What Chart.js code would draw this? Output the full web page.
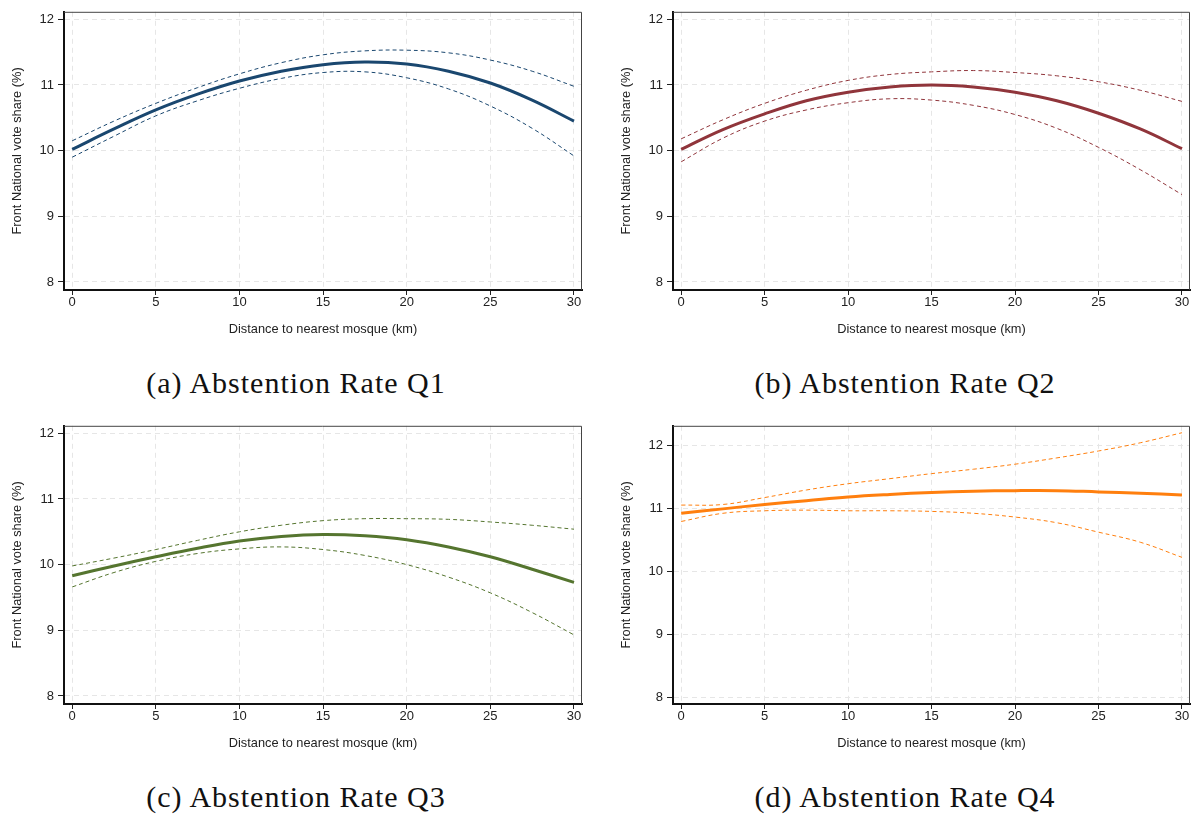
<!DOCTYPE html>
<html>
<head>
<meta charset="utf-8">
<script src="https://cdn.jsdelivr.net/npm/chart.js@4/dist/chart.umd.min.js"></script>
<style>
  body { margin: 0; background: #fff; width: 1192px; height: 818px; position: relative; overflow: hidden; }
  .panel { position: absolute; }
  .cap { position: absolute; text-align: center; font-family: "Liberation Serif", "DejaVu Serif", serif;
         font-size: 30px; line-height: 30px; letter-spacing: 1px; color: #111; white-space: nowrap; }
</style>
</head>
<body>
<div class="panel" style="left:0;top:0;width:596px;height:345px"><canvas id="qa"></canvas></div>
<div class="panel" style="left:609px;top:0;width:583px;height:345px"><canvas id="qb"></canvas></div>
<div class="panel" style="left:0;top:414px;width:596px;height:345px"><canvas id="qc"></canvas></div>
<div class="panel" style="left:609px;top:414px;width:583px;height:345px"><canvas id="qd"></canvas></div>
<div class="cap" style="left:0;width:592px;top:368px">(a) Abstention Rate Q1</div>
<div class="cap" style="left:609px;width:592px;top:368px">(b) Abstention Rate Q2</div>
<div class="cap" style="left:0;width:592px;top:782px">(c) Abstention Rate Q3</div>
<div class="cap" style="left:609px;width:592px;top:782px">(d) Abstention Rate Q4</div>
<script>
// distance to nearest mosque (km)
var distance = [0, 2.5, 5, 7.5, 10, 12.5, 15, 17.5, 20, 22.5, 25, 27.5, 30];
var xTicks = [0, 5, 10, 15, 20, 25, 30];
var yTicks = [8, 9, 10, 11, 12];

// Q1
var q1Fit   = [10.02, 10.33, 10.62, 10.86, 11.06, 11.21, 11.31, 11.35, 11.32, 11.21, 11.03, 10.77, 10.45];
var q1Upper = [10.15, 10.45, 10.72, 10.96, 11.17, 11.34, 11.46, 11.52, 11.53, 11.49, 11.38, 11.21, 10.98];
var q1Lower = [9.90, 10.22, 10.53, 10.76, 10.95, 11.10, 11.19, 11.20, 11.11, 10.94, 10.68, 10.34, 9.92];
// Q2
var q2Fit   = [10.02, 10.32, 10.56, 10.76, 10.89, 10.97, 11.00, 10.97, 10.89, 10.76, 10.57, 10.33, 10.03];
var q2Upper = [10.18, 10.47, 10.72, 10.92, 11.07, 11.16, 11.20, 11.22, 11.19, 11.14, 11.05, 10.92, 10.75];
var q2Lower = [9.83, 10.19, 10.45, 10.62, 10.73, 10.79, 10.77, 10.69, 10.55, 10.34, 10.05, 9.71, 9.33];
// Q3
var q3Fit   = [9.83, 9.98, 10.12, 10.25, 10.36, 10.43, 10.46, 10.44, 10.38, 10.27, 10.12, 9.93, 9.73];
var q3Upper = [9.98, 10.10, 10.23, 10.37, 10.50, 10.60, 10.67, 10.70, 10.70, 10.69, 10.65, 10.60, 10.54];
var q3Lower = [9.66, 9.88, 10.05, 10.17, 10.24, 10.27, 10.23, 10.14, 10.00, 9.81, 9.57, 9.27, 8.93];
// Q4
var q4Fit   = [10.92, 10.99, 11.06, 11.12, 11.18, 11.22, 11.25, 11.27, 11.28, 11.28, 11.26, 11.24, 11.21];
var q4Upper = [11.05, 11.06, 11.17, 11.29, 11.39, 11.47, 11.55, 11.62, 11.70, 11.80, 11.91, 12.04, 12.20];
var q4Lower = [10.79, 10.92, 10.96, 10.97, 10.96, 10.96, 10.95, 10.92, 10.86, 10.77, 10.62, 10.46, 10.22];

function pts(ys) {
  return distance.map(function (d, i) { return { x: d, y: ys[i] }; });
}

// top and right edges of the plot frame
var framePlugin = {
  id: 'frame',
  afterDraw: function (chart) {
    var a = chart.chartArea, ctx = chart.ctx;
    ctx.save();
    ctx.strokeStyle = '#444';
    ctx.lineWidth = 1;
    ctx.beginPath();
    ctx.moveTo(a.left, a.top + 0.5);
    ctx.lineTo(a.right - 0.5, a.top + 0.5);
    ctx.lineTo(a.right - 0.5, a.bottom);
    ctx.stroke();
    ctx.restore();
  }
};

var axisFont = { family: 'Liberation Sans', size: 12.8 };

function makeChart(id, color, fit, upper, lower, ymin, ymax) {
  var ctx = document.getElementById(id).getContext('2d');
  return new Chart(ctx, {
    type: 'line',
    data: {
      datasets: [
        { data: pts(upper), borderColor: color, borderWidth: 1, borderDash: [4, 3] },
        { data: pts(fit), borderColor: color, borderWidth: 3 },
        { data: pts(lower), borderColor: color, borderWidth: 1, borderDash: [4, 3] }
      ]
    },
    options: {
      responsive: true,
      maintainAspectRatio: false,
      animation: false,
      layout: { padding: { top: 5, right: id === 'qa' || id === 'qc' ? 14 : 2, bottom: 0, left: 0 } },
      elements: { point: { radius: 0 }, line: { tension: 0.4, fill: false } },
      plugins: { legend: { display: false }, tooltip: { enabled: false } },
      scales: {
        x: {
          type: 'linear', min: -0.49, max: 30.48,
          afterBuildTicks: function (s) { s.ticks = xTicks.map(function (v) { return { value: v }; }); },
          afterFit: function (s) { s.height = 55; },
          ticks: { font: { family: 'Liberation Sans', size: 13 }, color: '#222', padding: 0, maxRotation: 0 },
          grid: { color: '#e6e6e6', tickColor: '#222', tickLength: 5, tickBorderDash: [] },
          border: { color: '#111', width: 2, dash: [5, 4] },
          title: { display: true, text: 'Distance to nearest mosque (km)', color: '#222',
                   font: axisFont, padding: { top: 0, bottom: 8 } }
        },
        y: {
          min: ymin, max: ymax,
          afterBuildTicks: function (s) { s.ticks = yTicks.map(function (v) { return { value: v }; }); },
          afterFit: function (s) { s.width = 64; },
          ticks: { font: { family: 'Liberation Sans', size: 13 }, color: '#222', padding: 4 },
          grid: { color: '#e6e6e6', tickColor: '#222', tickLength: 6, tickBorderDash: [] },
          border: { color: '#111', width: 2, dash: [5, 4] },
          title: { display: true, text: 'Front National vote share (%)', color: '#222',
                   font: axisFont, padding: { top: 10, bottom: 0 } }
        }
      }
    },
    plugins: [framePlugin]
  });
}

makeChart('qa', '#1a476f', q1Fit, q1Upper, q1Lower, 7.877, 12.115);
makeChart('qb', '#90353b', q2Fit, q2Upper, q2Lower, 7.877, 12.115);
makeChart('qc', '#55752f', q3Fit, q3Upper, q3Lower, 7.877, 12.115);
makeChart('qd', '#ff7f0e', q4Fit, q4Upper, q4Lower, 7.89, 12.31);
</script>
</body>
</html>
